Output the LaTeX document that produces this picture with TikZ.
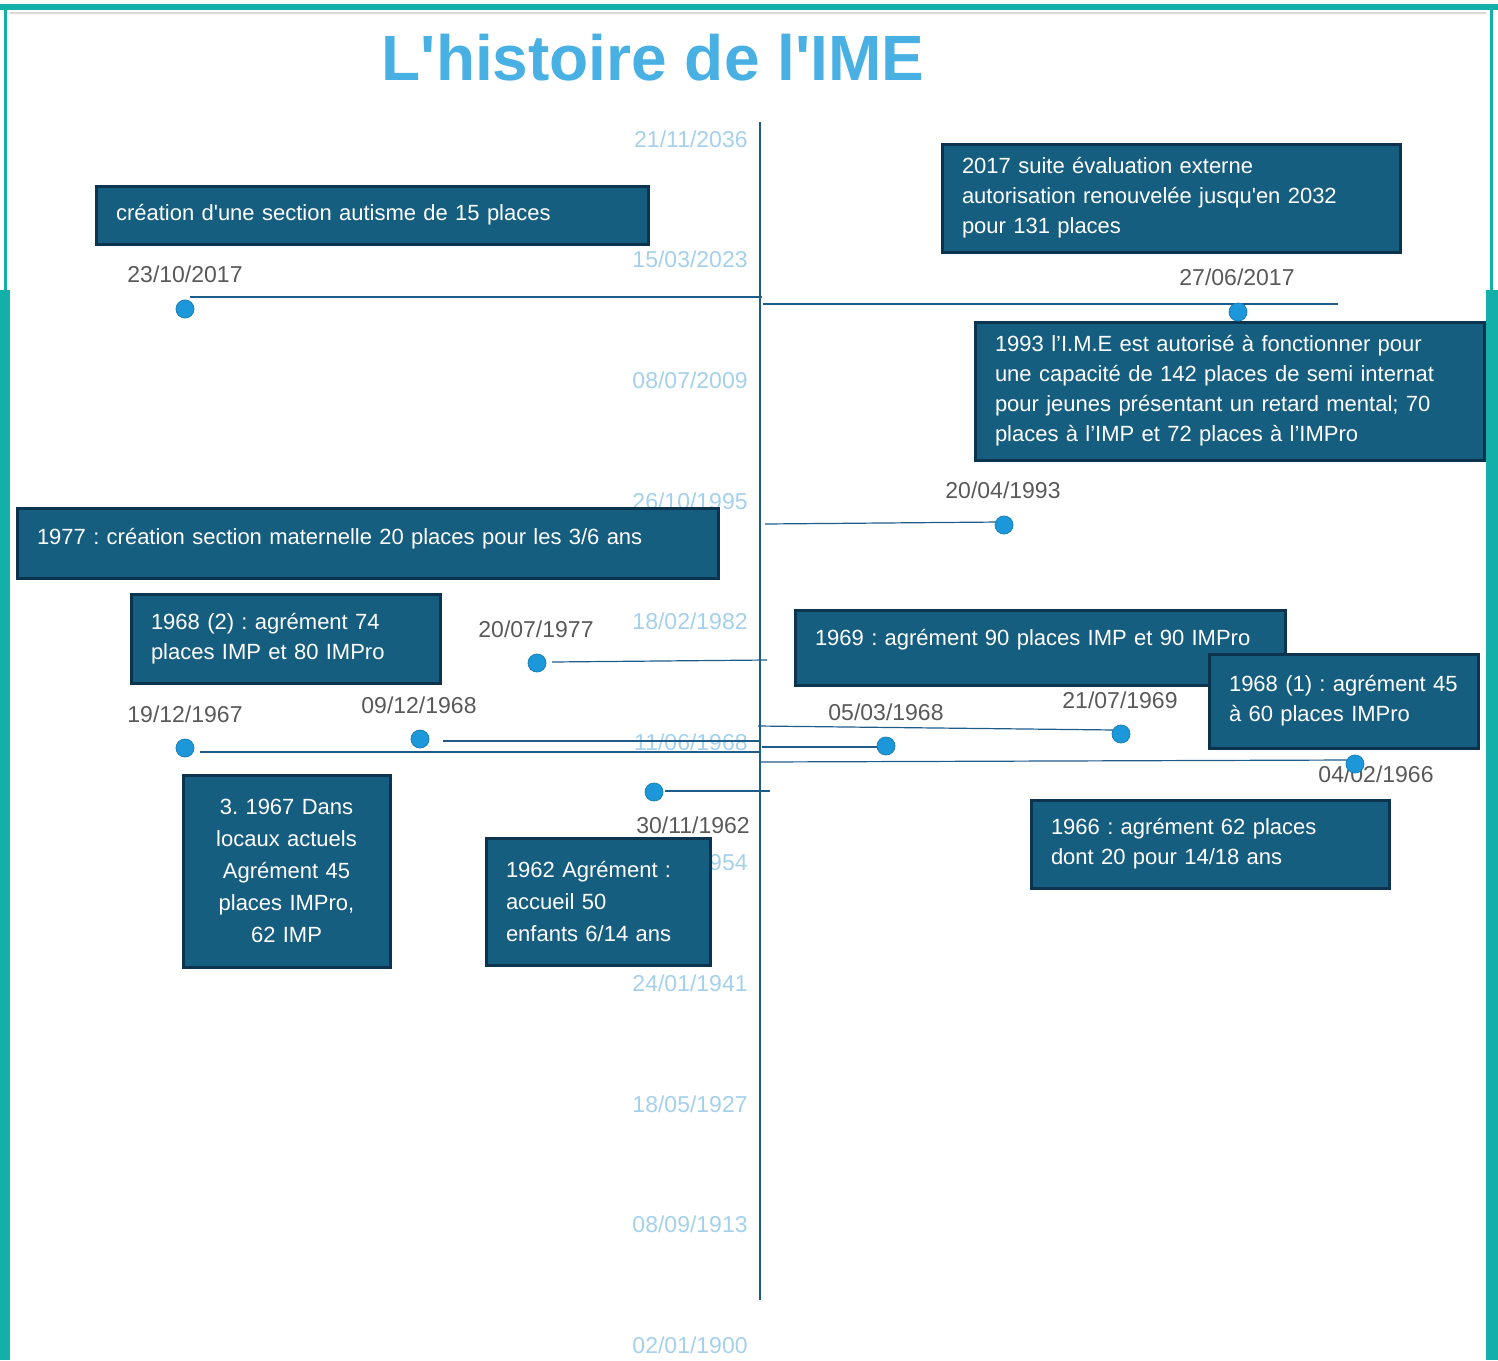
\documentclass[tikz,border=0pt]{standalone}
\usepackage{fontspec}
\setmainfont{Liberation Sans}
\frenchspacing
\hyphenpenalty=10000
\definecolor{frameteal}{RGB}{18,176,168}
\definecolor{titleblue}{RGB}{72,176,226}
\definecolor{boxfill}{RGB}{22,94,128}
\definecolor{boxedge}{RGB}{12,52,78}
\definecolor{axisblue}{RGB}{31,92,138}
\definecolor{dotblue}{RGB}{28,152,218}
\definecolor{dategray}{RGB}{89,89,89}
\definecolor{ticklight}{RGB}{165,208,236}

\begin{document}
\begin{tikzpicture}[x=0.5pt, y=-0.5pt,
  evbox/.style={draw=boxedge, fill=boxfill, line width=1.5pt, text=white, inner xsep=10pt, inner ysep=0pt, align=left, font=\fontsize{11}{15}\selectfont},
  evdot/.style={circle, fill=dotblue, draw=dotblue!85!black, line width=0.4pt, minimum size=9pt, inner sep=0pt},
  evdate/.style={text=dategray, font=\fontsize{11.5}{14}\selectfont, inner sep=0pt},
  ticklbl/.style={text=ticklight, font=\fontsize{11.5}{14}\selectfont, anchor=east, inner sep=0pt},
  link/.style={draw=axisblue, line width=0.6pt}]

\useasboundingbox (0,0) rectangle (1498,1360);

% Frame
\fill[frameteal] (0,4) rectangle (1498,10);
\draw[black!15, line width=0.8pt] (10,13) -- (1486,13);
\draw[frameteal, line width=1.5pt] (5,10) -- (5,290);
\draw[frameteal, line width=1.5pt] (1491,10) -- (1491,290);
\fill[frameteal] (0,290) rectangle (10,1360);
\fill[frameteal] (1486,290) rectangle (1498,1360);

% Title
\node[font=\fontsize{32}{36}\selectfont\bfseries, text=titleblue] (title) at (653,58) {L\textquotesingle histoire de l\textquotesingle IME};

% Axis labels
\foreach \d [count=\i from 0] in {{21/11/2036},{15/03/2023},{08/07/2009},{26/10/1995},{18/02/1982},{11/06/1968},{03/10/1954},{24/01/1941},{18/05/1927},{08/09/1913},{02/01/1900}}
	\node[ticklbl] (tick\i) at (748,{139+120.6*\i}) {\d};

% Axis
\coordinate (axtop) at (760,122);
\coordinate (axbot) at (760,1300);
\draw[link] (axtop) -- (axbot);

% Connectors
\coordinate (a1) at (190,297);   \coordinate (b1) at (762,297);
\coordinate (a2) at (763,304);   \coordinate (b2) at (1338,304);
\coordinate (a3) at (765,524);   \coordinate (b3) at (1000,522);
\coordinate (a4) at (552,662);   \coordinate (b4) at (767,660);
\coordinate (a5) at (443,741);   \coordinate (b5) at (760,741);
\coordinate (a6) at (200,752);   \coordinate (b6) at (760,752);
\coordinate (a7) at (762,747);   \coordinate (b7) at (880,747);
\coordinate (a8) at (758,726);   \coordinate (b8) at (1115,730);
\coordinate (a9) at (760,762);   \coordinate (b9) at (1350,760);
\coordinate (a10) at (665,791);  \coordinate (b10) at (770,791);
\foreach \i in {1,2,...,10}
	\draw[link] (a\i) -- (b\i);

% Events
\node[evbox, text width=256pt, minimum height=29pt] (autisme) at (372,215) {cr\'eation d\textquotesingle une section autisme de 15 places\rule[-2pt]{0pt}{0pt}};
\node[evbox, text width=209pt, minimum height=54pt] (ev2017) at (1171,198) {2017 suite \'evaluation externe\\autorisation renouvel\'ee jusqu\textquotesingle en 2032\\pour 131 places};
\node[evbox, text width=234.5pt, minimum height=69pt] (ev1993) at (1229.5,391) {1993 l’I.M.E est autoris\'e \`a fonctionner pour\\une capacit\'e de 142 places de semi internat\\pour jeunes pr\'esentant un retard mental; 70\\places \`a l’IMP et 72 places \`a l’IMPro};
\node[evbox, text width=330.5pt, minimum height=35pt] (ev1977) at (367.5,543) {1977 : cr\'eation section maternelle 20 places pour les 3/6 ans\rule[-7pt]{0pt}{0pt}};
\node[evbox, text width=134.5pt, minimum height=44.5pt] (ev1968b) at (285.5,638.5) {1968 (2) : agr\'ement 74\\places IMP et 80 IMPro};
\node[evbox, text width=225pt, minimum height=37.5pt] (ev1969) at (1040,647.5) {1969 : agr\'ement 90 places IMP et 90 IMPro\rule[-10pt]{0pt}{0pt}};
\node[evbox, text width=114.5pt, minimum height=47pt] (ev1968a) at (1343.5,701) {1968 (1) : agr\'ement 45\\\`a 60 places IMPro};
\node[evbox, text width=83.5pt, minimum height=96pt, align=center, font=\fontsize{11}{16}\selectfont] (ev1967) at (286.5,871) {3. 1967 Dans\\locaux actuels\\Agr\'ement 45\\places IMPro,\\62 IMP};
\node[evbox, text width=92pt, minimum height=63.5pt, font=\fontsize{11}{16}\selectfont] (ev1962) at (598,901.5) {1962 Agr\'ement :\\accueil 50\\enfants 6/14 ans};
\node[evbox, text width=159pt, minimum height=44pt] (ev1966) at (1210,844) {1966 : agr\'ement 62 places\\dont 20 pour 14/18 ans};

% Dates
\node[evdate] (l1) at (185,274) {23/10/2017};
\node[evdate] (l2) at (1237,277) {27/06/2017};
\node[evdate] (l3) at (1003,490) {20/04/1993};
\node[evdate] (l4) at (536,629) {20/07/1977};
\node[evdate] (l5) at (419,705) {09/12/1968};
\node[evdate] (l6) at (185,714) {19/12/1967};
\node[evdate] (l7) at (886,712) {05/03/1968};
\node[evdate] (l8) at (1120,700) {21/07/1969};
\node[evdate] (l9) at (1376,774) {04/02/1966};
\node[evdate] (l10) at (693,825) {30/11/1962};

% Dots
\node[evdot] (e1) at (185,309) {};
\node[evdot] (e2) at (1238,312) {};
\node[evdot] (e3) at (1004,525) {};
\node[evdot] (e4) at (537,663) {};
\node[evdot] (e5) at (420,739) {};
\node[evdot] (e6) at (185,748) {};
\node[evdot] (e7) at (886,746) {};
\node[evdot] (e8) at (1121,734) {};
\node[evdot] (e9) at (1355,764) {};
\node[evdot] (e10) at (654,792) {};
\end{tikzpicture}
\end{document}
